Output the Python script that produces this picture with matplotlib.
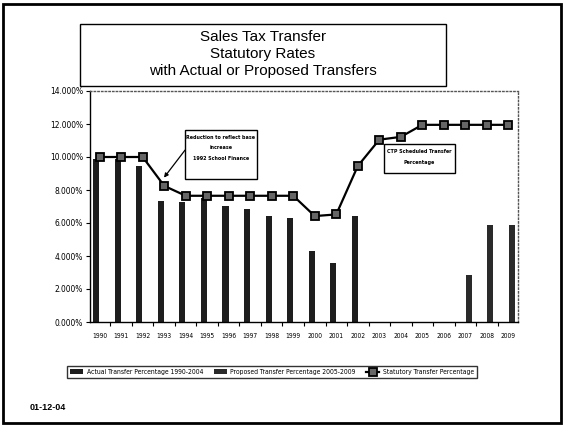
import matplotlib
matplotlib.use("Agg")
import matplotlib.pyplot as plt
from matplotlib import font_manager as fm
from matplotlib.patches import Rectangle
from matplotlib.ticker import FuncFormatter, FixedLocator
import numpy as np

years = ['1990', '1991', '1992', '1993', '1994', '1995', '1996', '1997', '1998', '1999',
         '2000', '2001', '2002', '2003', '2004', '2005', '2006', '2007', '2008', '2009']
actual = [9.9, 9.85, 9.45, 7.35, 7.3, 7.5, 7.05, 6.85, 6.45, 6.3,
          4.3, 3.55, 6.4, 0.0, 0.0, np.nan, np.nan, np.nan, np.nan, np.nan]
proposed = [np.nan] * 15 + [0.0, 0.0, 2.85, 5.9, 5.9]
statutory = [10.0, 10.0, 10.0, 8.25, 7.65, 7.65, 7.65, 7.65, 7.65, 7.65,
             6.42, 6.52, 9.45, 11.05, 11.22, 11.95, 11.95, 11.95, 11.95, 11.95]
yticks = [0, 2, 4, 6, 8, 10, 12, 14]

# pick a narrow font if one is installed
narrow_family, narrow_stretch = 'Liberation Sans', 'normal'
for f in fm.fontManager.ttflist:
    if 'Narrow' in f.name or 'Condensed' in f.name:
        narrow_family, narrow_stretch = f.name, 'normal'
        break
    if str(f.stretch) in ('condensed', 'semi-condensed', 'extra-condensed') and \
            f.name in ('Liberation Sans', 'DejaVu Sans', 'Roboto', 'Open Sans', 'Noto Sans'):
        narrow_family, narrow_stretch = f.name, 'condensed'
        break

plt.rcParams['font.family'] = [narrow_family, 'DejaVu Sans']
plt.rcParams['font.stretch'] = narrow_stretch

fig = plt.figure(figsize=(5.64, 4.26), dpi=100)
ax = fig.add_axes([90/564, 1 - 322/426, (518-90)/564, (322-91)/426])

x = np.arange(len(years))
w = 0.28
b1 = ax.bar(x - 0.15, actual, width=w, color='#1e1e1e', label='Actual Transfer Percentage 1990-2004')
b2 = ax.bar(x + 0.15, proposed, width=w, color='#2a2a2a', label='Proposed Transfer Percentage 2005-2009')
l1, = ax.plot(x, statutory, color='black', lw=1.6, marker='s', ms=5.5, mfc='#666666', mec='black',
              mew=1.3, label='Statutory Transfer Percentage')

ax.set_xlim(-0.45, 19.45)
ax.set_ylim(0, 14)
ax.set_yticks(yticks)
ax.yaxis.set_major_formatter(FuncFormatter(lambda v, p: f"{v:.3f}%"))
ax.tick_params(axis='y', labelsize=6, length=3, width=0.8, pad=2)
ax.set_xticks(x)
ax.set_xticklabels(years)
ax.tick_params(axis='x', which='major', labelsize=4.8, length=0, pad=8)
ax.xaxis.set_minor_locator(FixedLocator(np.arange(-0.5, 20, 1)))
ax.tick_params(axis='x', which='minor', length=3, width=0.8)
for s in ['top', 'right']:
    ax.spines[s].set_linestyle(':')
    ax.spines[s].set_color('#555555')
    ax.spines[s].set_linewidth(1.0)
for s in ['left', 'bottom']:
    ax.spines[s].set_linewidth(1.0)

# annotation boxes
ax.add_patch(Rectangle((3.97, 8.67), 7.31 - 3.97, 11.64 - 8.67, fc='white', ec='black', lw=1.0,
                       zorder=5))
for t, yy in zip(['Reduction to reflect base', 'increase', '1992 School Finance'], [11.2, 10.55, 9.9]):
    ax.text(5.64, yy, t, fontsize=3.9, fontweight='bold', ha='center', va='center', zorder=6)
ax.annotate('', xy=(2.99, 8.75), xytext=(3.97, 10.42),
            arrowprops=dict(arrowstyle='-|>', color='black', lw=0.9, mutation_scale=6,
                            shrinkA=0, shrinkB=0))

ax.add_patch(Rectangle((13.22, 9.03), 16.52 - 13.22, 10.79 - 9.03, fc='white', ec='black', lw=1.0,
                       zorder=5))
for t, yy in zip(['CTP Scheduled Transfer', 'Percentage'], [10.36, 9.65]):
    ax.text(14.87, yy, t, fontsize=3.9, fontweight='bold', ha='center', va='center', zorder=6)

# title box
fig.patches.append(Rectangle((80/564, 1 - 86/426), (446-80)/564, (86-24)/426,
                             transform=fig.transFigure, fill=False, ec='black', lw=1.0))
for i, t in enumerate(['Sales Tax Transfer', 'Statutory Rates', 'with Actual or Proposed Transfers']):
    fig.text(263/564, 1 - (37 + i*17)/426, t, ha='center', va='center', fontsize=11,
             family=['Liberation Sans', 'DejaVu Sans'], stretch='normal')

leg = fig.legend(handles=[b1, b2, l1], loc='center', bbox_to_anchor=(272/564, 1 - 372/426), ncol=3,
                 fontsize=4.9, frameon=True, fancybox=False, edgecolor='black', handlelength=1.9,
                 handleheight=0.6, columnspacing=1.6, borderpad=0.4, handletextpad=0.5)
leg.get_frame().set_linewidth(1.0)

fig.text(30/564, 1 - 408/426, '01-12-04', fontsize=6.5, fontweight='bold', va='center',
         family=['Liberation Sans', 'DejaVu Sans'], stretch='normal')

fig.patches.append(Rectangle((3/564, 3/426), 558/564, 419/426, transform=fig.transFigure,
                             fill=False, ec='black', lw=2.0))

fig.savefig('out.png', dpi=100)
